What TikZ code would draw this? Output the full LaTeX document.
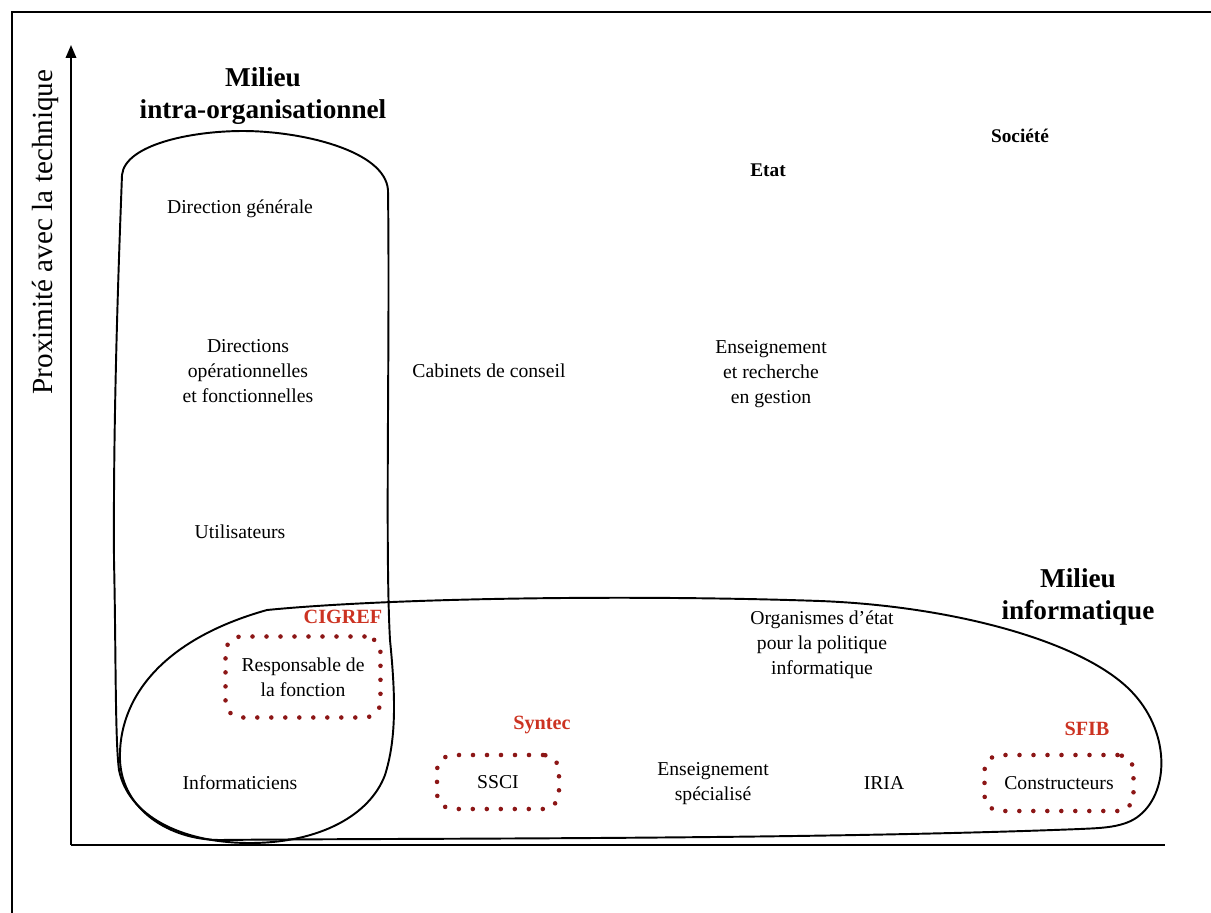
\documentclass[tikz,border=0pt]{standalone}
\usepackage{fontspec}
\setmainfont{Liberation Serif}
\usetikzlibrary{arrows.meta}
\pgfdeclarelayer{bg}
\pgfsetlayers{bg,main}
\definecolor{sigrouge}{RGB}{204,51,34}
\definecolor{pointille}{RGB}{140,22,22}
\tikzset{
    every node/.style={inner sep=0mm, align=center, font=\fontsize{11.2}{14.2}\selectfont}
}
\tikzset{milieu/.style={font=\fontsize{15.5}{18.2}\selectfont\bfseries}}
\tikzset{pole/.style={font=\fontsize{11}{14}\selectfont\bfseries}}
\tikzset{sigle/.style={text=sigrouge, font=\fontsize{11.5}{14}\selectfont\bfseries}}
\tikzset{dotbox/.style={draw=pointille, line width=2.6pt, dash pattern=on 0pt off 0.28cm, line cap=round, rounded corners=0.32cm}}
\tikzset{blob/.style={line width=1.1pt}}

\begin{document}
\begin{tikzpicture}[x=0.02cm, y=-0.02cm]
        \useasboundingbox (0,0) rectangle (1211,913);
        % cadre et axes
        \coordinate (c0) at (12,913);
        \coordinate (c1) at (12,12);
        \coordinate (c2) at (1211,12);
        \coordinate (o) at (71,845);
        \coordinate (ytop) at (71,45);
        \coordinate (xend) at (1165,845);
        \draw [line width=0.9pt] (c0) -- (c1) -- (c2);
        \draw [line width=1.1pt, -{Triangle[length=2.6mm,width=2.1mm]}] (o) -- (ytop);
        \draw [line width=1.1pt] (o) -- (xend);
        \node (axe) [rotate=90, font=\fontsize{16.6}{19}\selectfont] at (45,232) {Proximité avec la technique};

        \node (mio) [milieu] at (263,96) {Milieu\\intra-organisationnel};
        \node (mi) [milieu] at (1078,597) {Milieu\\informatique};
        \node (soc) [pole] at (1020,136) {Société};
        \node (etat) [pole] at (768,170) {Etat};

        \node (dg) at (240,209) {Direction générale};
        \node (dop) at (248,371) {Directions\\opérationnelles\\et fonctionnelles};
        \node (util) at (240,532) {Utilisateurs};
        \node (cab) at (489,371) {Cabinets de conseil};
        \node (erg) at (771,374) {Enseignement\\et recherche\\en gestion};
        \node (org) at (822,645) {Organismes d’état\\pour la politique\\informatique};
        \node (info) at (240,783) {Informaticiens};
        \node (ens) at (713,784) {Enseignement\\spécialisé};
        \node (iria) at (884,783) {IRIA};

        \node (resp) [dotbox, minimum width=3.1cm, minimum height=1.62cm] at (303,677) {Responsable de\\la fonction};
        \node (ssci) [dotbox, minimum width=2.44cm, minimum height=1.08cm] at (498,782) {SSCI};
        \node (cons) [dotbox, minimum width=2.98cm, minimum height=1.12cm] at (1059,783) {Constructeurs};
        \node (cigref) [sigle] at (343,617) {CIGREF};
        \node (syntec) [sigle] at (542,725) {Syntec};
        \node (sfib) [sigle] at (1087,729) {SFIB};

        \begin{pgfonlayer}{bg}
                % milieu intra-organisationnel
                \draw [blob] (122,175) .. controls (125,145) and (190,131) .. (243,131)
                        .. controls (300,131) and (385,150) .. (388,190)
                        .. controls (390,350) and (385,550) .. (390,640)
                        .. controls (396,700) and (396,740) .. (385,775)
                        .. controls (370,815) and (320,843) .. (250,843)
                        .. controls (180,843) and (128,815) .. (119,770)
                        .. controls (115,740) and (116,650) .. (114,560)
                        .. controls (113,400) and (120,230) .. (122,175) -- cycle;
                % milieu informatique
                \draw [blob] (267,610) .. controls (400,597) and (650,595) .. (820,601)
                        .. controls (950,606) and (1080,640) .. (1130,690)
                        .. controls (1170,730) and (1170,790) .. (1140,815)
                        .. controls (1125,828) and (1100,828) .. (1080,829)
                        .. controls (800,840) and (400,838) .. (220,840)
                        .. controls (170,840) and (122,810) .. (120,760)
                        .. controls (118,700) and (160,640) .. (267,610) -- cycle;
        \end{pgfonlayer}
\end{tikzpicture}
\end{document}
